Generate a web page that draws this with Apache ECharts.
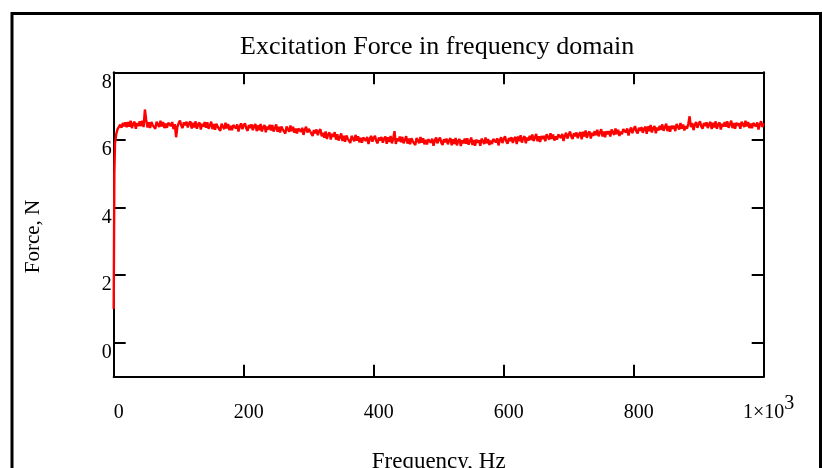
<!DOCTYPE html>
<html>
<head>
<meta charset="utf-8">
<script src="https://cdn.jsdelivr.net/npm/echarts@6/dist/echarts.min.js"></script>
<style>
html,body{margin:0;padding:0;background:#fff;}
#chart{width:822px;height:468px;}
</style>
</head>
<body>
<div id="chart"></div>
<script>
// ---- data ----
var titleText = 'Excitation Force in frequency domain';
var xName = 'Frequency, Hz';
var yName = 'Force, N';
var xTicks = [0, 200, 400, 600, 800, 1000];
var yTicks = [0, 2, 4, 6, 8];
// initial ramp (Hz, N)
var rampFreq = [0, 1];
var rampForce = [1.0, 5.0];
// force sampled every 2 Hz from 2 Hz to 1000 Hz
var freqStep = 2;
var force = [
  5.90, 6.18, 6.32, 6.28, 6.45, 6.36, 6.50, 6.40, 6.52, 6.38,
  6.53, 6.39, 6.57, 6.35, 6.48, 6.54, 6.33, 6.50, 6.41, 6.55,
  6.41, 6.57, 6.38, 6.90, 6.59, 6.37, 6.52, 6.35, 6.53, 6.44,
  6.49, 6.33, 6.54, 6.46, 6.38, 6.57, 6.40, 6.53, 6.35, 6.48,
  6.36, 6.51, 6.55, 6.41, 6.53, 6.32, 6.47, 6.08, 6.39, 6.50,
  6.57, 6.42, 6.35, 6.52, 6.43, 6.54, 6.37, 6.49, 6.55, 6.34,
  6.51, 6.37, 6.55, 6.33, 6.46, 6.52, 6.31, 6.48, 6.39, 6.53,
  6.36, 6.52, 6.33, 6.43, 6.54, 6.32, 6.47, 6.30, 6.48, 6.39,
  6.43, 6.27, 6.48, 6.40, 6.32, 6.51, 6.34, 6.47, 6.29, 6.42,
  6.29, 6.44, 6.48, 6.34, 6.46, 6.25, 6.40, 6.49, 6.32, 6.43,
  6.49, 6.34, 6.27, 6.44, 6.35, 6.46, 6.29, 6.41, 6.47, 6.26,
  6.43, 6.29, 6.47, 6.25, 6.38, 6.44, 6.23, 6.40, 6.31, 6.45,
  6.28, 6.44, 6.25, 6.35, 6.46, 6.24, 6.39, 6.22, 6.40, 6.31,
  6.35, 6.19, 6.40, 6.32, 6.24, 6.43, 6.26, 6.39, 6.21, 6.34,
  6.19, 6.34, 6.38, 6.24, 6.36, 6.15, 6.30, 6.39, 6.22, 6.33,
  6.34, 6.19, 6.12, 6.29, 6.20, 6.31, 6.14, 6.26, 6.32, 6.11,
  6.21, 6.07, 6.25, 6.03, 6.16, 6.22, 6.01, 6.18, 6.09, 6.23,
  6.01, 6.17, 5.98, 6.08, 6.19, 5.97, 6.12, 5.95, 6.13, 6.04,
  6.07, 5.91, 6.12, 6.04, 5.96, 6.15, 5.98, 6.11, 5.93, 6.06,
  5.92, 6.07, 6.11, 5.97, 6.09, 5.88, 6.03, 6.12, 5.95, 6.06,
  6.12, 5.97, 5.90, 6.07, 5.98, 6.09, 5.92, 6.04, 6.10, 5.89,
  6.08, 5.94, 6.12, 5.90, 6.03, 6.26, 5.88, 6.05, 5.96, 6.10,
  5.93, 6.09, 5.90, 6.00, 6.11, 5.89, 6.04, 5.87, 6.05, 5.96,
  6.01, 5.85, 6.06, 5.98, 5.90, 6.09, 5.92, 6.05, 5.87, 6.00,
  5.87, 6.02, 6.06, 5.92, 6.04, 5.83, 5.98, 6.07, 5.90, 6.01,
  6.07, 5.92, 5.85, 6.02, 5.93, 6.04, 5.87, 5.99, 6.05, 5.84,
  6.02, 5.88, 6.06, 5.84, 5.97, 6.03, 5.82, 5.99, 5.90, 6.04,
  5.89, 6.05, 5.86, 5.96, 6.07, 5.85, 6.00, 5.83, 6.01, 5.92,
  5.99, 5.83, 6.04, 5.96, 5.88, 6.07, 5.90, 6.03, 5.85, 5.98,
  5.88, 6.03, 6.07, 5.93, 6.05, 5.84, 5.99, 6.08, 5.91, 6.02,
  6.11, 5.96, 5.89, 6.06, 5.97, 6.08, 5.91, 6.03, 6.09, 5.88,
  6.10, 5.96, 6.14, 5.92, 6.05, 6.11, 5.90, 6.07, 5.98, 6.12,
  6.00, 6.16, 5.97, 6.07, 6.18, 5.96, 6.11, 5.94, 6.12, 6.03,
  6.12, 5.96, 6.17, 6.09, 6.01, 6.20, 6.03, 6.16, 5.98, 6.11,
  6.01, 6.16, 6.20, 6.06, 6.18, 5.97, 6.12, 6.21, 6.04, 6.15,
  6.25, 6.10, 6.03, 6.20, 6.11, 6.22, 6.05, 6.17, 6.23, 6.02,
  6.24, 6.10, 6.28, 6.06, 6.19, 6.25, 6.04, 6.21, 6.12, 6.26,
  6.14, 6.30, 6.11, 6.21, 6.32, 6.10, 6.25, 6.08, 6.26, 6.17,
  6.26, 6.10, 6.31, 6.23, 6.15, 6.34, 6.17, 6.30, 6.12, 6.25,
  6.17, 6.32, 6.36, 6.22, 6.34, 6.13, 6.28, 6.37, 6.20, 6.31,
  6.41, 6.26, 6.19, 6.36, 6.27, 6.38, 6.21, 6.33, 6.39, 6.18,
  6.40, 6.26, 6.44, 6.22, 6.35, 6.41, 6.20, 6.37, 6.28, 6.42,
  6.30, 6.46, 6.27, 6.37, 6.48, 6.26, 6.41, 6.24, 6.42, 6.33,
  6.42, 6.26, 6.47, 6.39, 6.31, 6.50, 6.33, 6.46, 6.28, 6.41,
  6.33, 6.48, 6.70, 6.38, 6.50, 6.29, 6.44, 6.53, 6.36, 6.47,
  6.55, 6.40, 6.33, 6.50, 6.41, 6.52, 6.35, 6.47, 6.53, 6.32,
  6.51, 6.37, 6.55, 6.33, 6.46, 6.52, 6.31, 6.48, 6.39, 6.53,
  6.39, 6.55, 6.36, 6.46, 6.57, 6.35, 6.50, 6.33, 6.51, 6.42,
  6.49, 6.33, 6.54, 6.46, 6.38, 6.57, 6.40, 6.53, 6.35, 6.48,
  6.35, 6.50, 6.54, 6.40, 6.52, 6.31, 6.46, 6.55, 6.38, 6.49
];

var points = [];
for (var i = 0; i < rampFreq.length; i++) points.push([rampFreq[i], rampForce[i]]);
for (var j = 0; j < force.length; j++) points.push([(j + 1) * freqStep, force[j]]);

var FONT = 'Liberation Serif';
var chart = echarts.init(document.getElementById('chart'), null, {renderer: 'canvas'});

var tickStyle = {show: true, inside: true, length: 12, lineStyle: {color: '#000', width: 2}};
var lineStyle = {show: true, onZero: false, lineStyle: {color: '#000', width: 2}};

chart.setOption({
  animation: false,
  backgroundColor: '#fff',
  title: {
    text: titleText,
    left: 240,
    top: 34,
    padding: 0,
    textStyle: {fontFamily: FONT, fontSize: 26, fontWeight: 'normal', color: '#000'}
  },
  grid: {left: 113.7, top: 72.3, right: 58.3, bottom: 91.3, containLabel: false, outerBoundsMode: 'none'},
  xAxis: [{
    type: 'value', min: 0, max: 1000, interval: 200, position: 'bottom',
    name: xName, nameLocation: 'middle', nameGap: 74,
    nameTextStyle: {fontFamily: FONT, fontSize: 23, color: '#000'},
    axisLine: lineStyle,
    axisTick: Object.assign({customValues: xTicks}, tickStyle),
    splitLine: {show: false},
    axisLabel: {
      customValues: xTicks,
      margin: 26, fontFamily: FONT, fontSize: 20, color: '#000',
      padding: [0, 0, 0, 10],
      formatter: function (v) { return v === 1000 ? '{a|1×10}{s|3}' : '{a|' + v + '}'; },
      rich: {
        a: {fontFamily: FONT, fontSize: 20, lineHeight: 20, color: '#000'},
        s: {fontFamily: FONT, fontSize: 20, lineHeight: 20, verticalAlign: 'bottom', padding: [0, 0, 9, 0], color: '#000'}
      }
    }
  }, {
    type: 'value', min: 0, max: 1000, interval: 200, position: 'top',
    axisLine: lineStyle,
    axisTick: Object.assign({customValues: xTicks}, tickStyle),
    axisLabel: {show: false},
    splitLine: {show: false}
  }],
  yAxis: [{
    type: 'value', min: -1, max: 8, position: 'left',
    name: yName, nameLocation: 'middle', nameGap: 70, nameRotate: 90,
    nameTextStyle: {fontFamily: FONT, fontSize: 21, color: '#000', padding: [0, 24, 0, 0]},
    axisLine: lineStyle,
    axisTick: Object.assign({customValues: yTicks}, tickStyle),
    splitLine: {show: false},
    axisLabel: {
      customValues: yTicks,
      margin: 2, fontFamily: FONT, fontSize: 20, color: '#000',
      verticalAlign: 'top'
    }
  }, {
    type: 'value', min: -1, max: 8, position: 'right',
    axisLine: lineStyle,
    axisTick: Object.assign({customValues: yTicks}, tickStyle),
    axisLabel: {show: false},
    splitLine: {show: false}
  }],
  graphic: [{
    type: 'rect',
    shape: {x: 12, y: 13.5, width: 808.5, height: 520},
    style: {fill: 'none', stroke: '#000', lineWidth: 3},
    silent: true
  }],
  series: [{
    type: 'line',
    xAxisIndex: 0, yAxisIndex: 0,
    data: points,
    showSymbol: false,
    lineStyle: {color: '#ff0000', width: 2.4},
    z: 1
  }]
});
</script>
</body>
</html>
